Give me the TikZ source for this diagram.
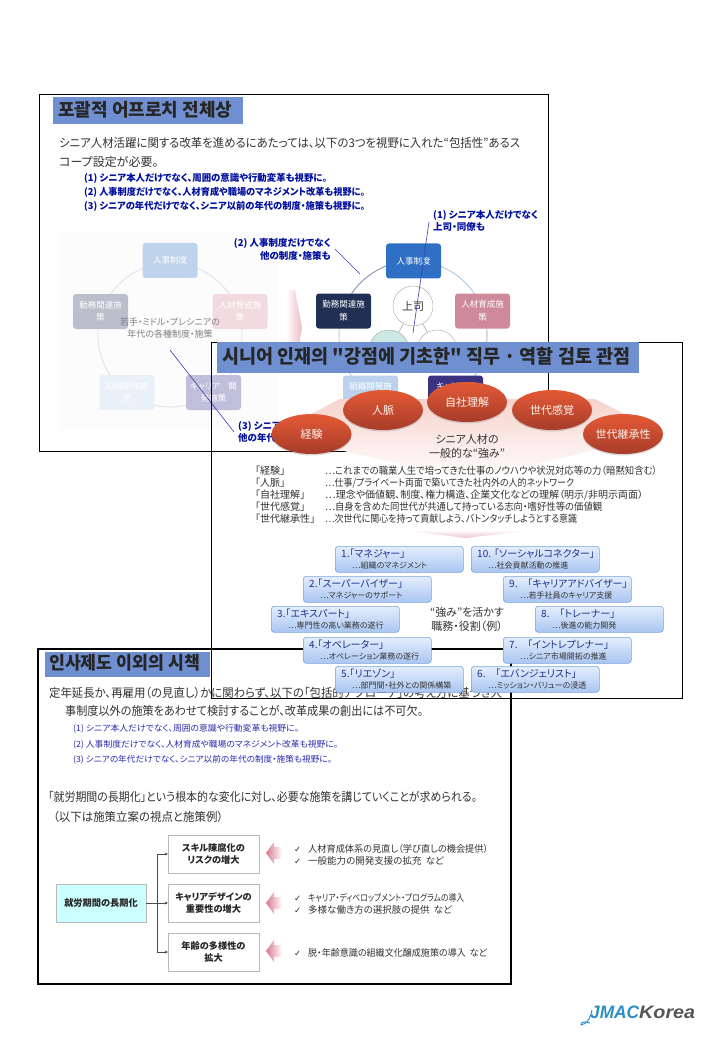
\documentclass[tikz,border=0pt]{standalone}
\usepackage{graphicx}
\usepackage{fontspec}
\setmainfont[RawFeature=+palt]{Noto Sans CJK JP}
\newfontfamily\krfont{Noto Sans CJK KR}
\newfontfamily\lgfont{Liberation Sans}
\newfontfamily\djvfont{DejaVu Sans}
\usetikzlibrary{shapes.geometric,shadows,arrows.meta,calc}
\definecolor{band}{HTML}{6F8FD0}
\definecolor{navy}{HTML}{000F9F}
\definecolor{blue3}{HTML}{2A2AB0}
\definecolor{txt}{HTML}{333333}
\definecolor{annot}{HTML}{3B3BAE}
\definecolor{E1}{HTML}{E45A36}
\definecolor{E2}{HTML}{A63C2A}
\definecolor{RB}{HTML}{7BA4DC}
\definecolor{R1}{HTML}{E4EEFD}
\definecolor{R2}{HTML}{A9C5F1}
\definecolor{R3}{HTML}{1F2F8F}
\definecolor{P1}{HTML}{D8788F}
\definecolor{B1}{HTML}{9BBFE0}
\definecolor{B2}{HTML}{8A96AE}
\definecolor{C1}{HTML}{C0D3EC}
\definecolor{C2}{HTML}{B9BFCB}
\definecolor{C3}{HTML}{F2DBE0}
\definecolor{C4}{HTML}{E9F0F8}
\definecolor{C5}{HTML}{C1BEDB}
\definecolor{D1}{HTML}{2F6FC4}
\definecolor{D2}{HTML}{1F3054}
\definecolor{D3}{HTML}{CF8A9A}
\definecolor{D4}{HTML}{BCD2EC}
\definecolor{D5}{HTML}{3A3480}
\definecolor{D6}{HTML}{CCE8E4}
\definecolor{S1}{HTML}{F6D3CC}
\definecolor{F1}{HTML}{CCFFFF}
\definecolor{L1}{HTML}{2A8FC8}
\definecolor{L2}{HTML}{555555}
\newcommand{\fs}[1]{\fontsize{#1}{#1}\selectfont}
\newcommand{\fw}[2]{\resizebox{#1pt}{\height}{#2}}
\tikzset{
 x=1pt,y=-1pt,
 frame/.style={draw=black,line width=1pt},
 frameb/.style={draw=black,line width=2pt},
 ttl/.style={anchor=mid west,inner sep=0,yshift=-3pt,font=\krfont\bfseries\fs{18},text=black!85},
 tl/.style={anchor=mid west,inner sep=0,yshift=-1.5pt,text=txt},
 tc/.style={anchor=center,inner sep=0,text=txt,align=center},
 bluebold/.style={tl,text=navy,font=\bfseries\fs{9.5}},
 bluereg/.style={tl,text=blue3,font=\fs{8.5}},
 main/.style={tl,font=\fs{12}},
 rbox/.style={rounded corners=3pt,inner sep=0,minimum width=55pt,minimum height=35pt,align=center,font=\fontsize{8.5}{12.5}\selectfont,text=white},
 ring/.style={circle,draw=gray!70,fill=white,minimum size=40pt,inner sep=0},
 annotline/.style={draw=annot,line width=.6pt},
 bigell/.style={ellipse,minimum width=80pt,minimum height=40pt,inner sep=0,top color=E1,bottom color=E2,text=white!92!orange,font=\fs{11},drop shadow={opacity=.3,shadow xshift=0pt,shadow yshift=-1.5pt}},
 rolebox/.style={draw=RB,rounded corners=3pt,line width=.6pt,top color=R1,bottom color=R2,minimum width=128pt,minimum height=26pt,inner sep=0,anchor=north west},
 roletitle/.style={tl,text=R3,font=\fs{10}},
 rolesub/.style={tl,font=\fs{8},text=txt},
 fbox/.style={draw=gray!55,fill=white,minimum width=91pt,minimum height=38pt,inner sep=0,align=center,font=\bfseries\fs{9.2},text=black!85,drop shadow={opacity=.25,shadow xshift=1pt,shadow yshift=-1pt}},
 conn/.style={draw=black!70,line width=.6pt,-{Stealth[length=3pt,width=3pt]}},
 chk/.style={tl,font=\djvfont\fs{8.5}},
 item/.style={tl,font=\fs{9.5}},
 pinkarrow/.style={left color=P1,right color=white,draw=none},
}
\newcommand{\role}[5]{%
 \node[rolebox] (#1) at (#2,#3) {};
 \node[roletitle] (#1t) at ([shift={(6,7.5)}]#1.north west) {#4};
 \node[rolesub] (#1s) at ([shift={(17,18.5)}]#1.north west) {#5};
}
\begin{document}
\begin{tikzpicture}
\useasboundingbox (0,0) rectangle (720,1040);
\fill[white] (0,0) rectangle (720,1040);

% ---------- panel 1
\draw[frame] (39,95) rectangle (548,451);
\fill[band] (53,97) rectangle (243,124);
\node[ttl] (t1) at (58,110.5) {\fw{174}{포괄적 어프로치 전체상}};
\node[main] (a1) at (59,143) {\fw{461}{シニア人材活躍に関する改革を進めるにあたっては、以下の3つを視野に入れた“包括性”あるス}};
\node[main] (a2) at (59,162) {コープ設定が必要。};
\node[bluebold] (b1) at (84,177) {\fw{243}{(1) シニア本人だけでなく、周囲の意識や行動変革も視野に。}};
\node[bluebold] (b2) at (84,191) {\fw{281}{(2) 人事制度だけでなく、人材育成や職場のマネジメント改革も視野に。}};
\node[bluebold] (b3) at (84,205) {\fw{281}{(3) シニアの年代だけでなく、シニア以前の年代の制度・施策も視野に。}};

% faded diagram
\fill[black!1] (60,232) rectangle (278,430);
\draw[blue!25!gray!25,line width=.6pt] (170,335) circle (72);
\node[rbox,fill=C1] (f1) at (170,260.5) {人事制度};
\node[rbox,fill=C2] (f2) at (100.5,311.5) {勤務関連施\\策};
\node[rbox,fill=C3] (f3) at (240,311.5) {人材育成施\\策};
\node[rbox,fill=C4] (f4) at (127,392.5) {組織開発施\\策};
\node[rbox,fill=C5] (f5) at (213.5,392.5) {キャリア　開\\発施策};
\node[tc,text=gray,font=\fontsize{9}{12}\selectfont] (fc) at (170,328) {若手・ミドル・プレシニアの\\年代の各種制度・施策};

% pink arrow between diagrams
\shade[left color=white,right color=P1!50] (286,290) -- (295,290) -- (302,328) -- (295,366) -- (286,366) -- cycle;

% sharp diagram
\draw[draw=B1,line width=.7pt] (413,335) circle (74);
\begin{scope}
 \clip (339,240) rectangle (386,300);
 \draw[draw=B2,line width=.7pt] (413,335) circle (74);
\end{scope}
\begin{scope}
 \clip (470,329) rectangle (500,342);
 \draw[draw=D3!60,line width=.7pt] (413,335) circle (74);
\end{scope}
\node[rbox,fill=D1] (s1) at (413.5,261) {人事制度};
\node[rbox,fill=D2] (s2) at (343.5,311) {勤務関連施\\策};
\node[rbox,fill=D3] (s3) at (482.5,311) {人材育成施\\策};
\node[rbox,fill=D4] (s4) at (370.5,393) {組織開発施\\策};
\node[rbox,fill=D5] (s5) at (455.5,393) {キャリア開\\発施策};
\node[ring,font=\fs{11},text=txt] (c0) at (413,306) {上司};
\node[ring,fill=D6] (c1) at (389,350) {};
\node[ring] (c2) at (437,350) {};
\draw[gray!70,line width=.6pt] (c0) -- (c1);
\draw[gray!70,line width=.6pt] (c0) -- (c2);

\coordinate (l1a) at (429,222); \coordinate (l1b) at (413,333);
\coordinate (l2a) at (335,249); \coordinate (l2b) at (360,274);
\coordinate (l3a) at (170,350); \coordinate (l3b) at (234,432);
\draw[annotline] (l1a) -- (l1b);
\draw[annotline] (l2a) -- (l2b);
\draw[annotline] (l3a) -- (l3b);
\node[bluebold] (n1) at (433,214) {(1) シニア本人だけでなく};
\node[bluebold] (n1b) at (433,226.5) {上司・同僚も};
\node[bluebold,anchor=mid east] (n2) at (331,242.5) {(2) 人事制度だけでなく};
\node[bluebold,anchor=mid east] (n2b) at (331,255) {他の制度・施策も};
\node[bluebold] (n3) at (238,425) {(3) シニア};
\node[bluebold] (n3b) at (238,437) {他の年代};

% ---------- panel 2 background
\shade[top color=S1,bottom color=white] (340,399) -- (595,399) -- (663,434) -- (467,480) -- (272,434) -- cycle;
\draw[frame] (211,342) rectangle (682,698);
\fill[band] (217,342) rectangle (639,373);
\node[ttl,font=\krfont\bfseries\fs{19}] (t2) at (222,358) {\fw{408}{시니어 인재의 "강점에 기초한" 직무 · 역할 검토 관점}};
\node[bigell] (e1) at (311.5,434) {経験};
\node[bigell] (e2) at (383,410) {人脈};
\node[bigell] (e3) at (467,402) {自社理解};
\node[bigell] (e4) at (552,410) {世代感覚};
\node[bigell] (e5) at (623,434) {世代継承性};
\node[tc,font=\fontsize{11}{14}\selectfont] (g1) at (467,446) {シニア人材の\\一般的な“強み”};
\node[tl,font=\fs{10}] (k1) at (255,470) {「経験」};
\node[tl,font=\fs{10}] (k2) at (255,482) {「人脈」};
\node[tl,font=\fs{10}] (k3) at (255,494) {「自社理解」};
\node[tl,font=\fs{10}] (k4) at (255,506) {「世代感覚」};
\node[tl,font=\fs{10}] (k5) at (255,518) {「世代継承性」};
\node[tl,font=\fs{10}] (v1) at (325,470) {\fw{332}{…これまでの職業人生で培ってきた仕事のノウハウや状況対応等の力（暗黙知含む）}};
\node[tl,font=\fs{10}] (v2) at (325,482) {\fw{249}{…仕事/プライベート両面で築いてきた社内外の人的ネットワーク}};
\node[tl,font=\fs{10}] (v3) at (325,494) {\fw{318}{…理念や価値観、制度、権力構造、企業文化などの理解（明示/非明示両面）}};
\node[tl,font=\fs{10}] (v4) at (325,506) {\fw{277}{…自身を含めた同世代が共通して持っている志向・嗜好性等の価値観}};
\node[tl,font=\fs{10}] (v5) at (325,518) {\fw{252}{…次世代に関心を持って貢献しよう、バトンタッチしようとする意識}};
\shade[top color=white,bottom color=P1!45] (400,530) -- (533,530) -- (466,538) -- cycle;

% ---------- panel 3
\draw[frameb] (38,649) rectangle (511,984);
\fill[band] (45,652) rectangle (210,677);
\node[ttl] (t3) at (49,664) {\fw{151}{인사제도 이외의 시책}};
\node[main] (m1) at (49,693) {\fw{453}{定年延長か、再雇用（の見直し）かに関わらず、以下の「包括的アプローチ」の考え方に基づき人}};
\node[main] (m2) at (65,711) {\fw{358}{事制度以外の施策をあわせて検討することが、改革成果の創出には不可欠。}};
\node[bluereg] (u1) at (73,727) {\fw{226}{(1) シニア本人だけでなく、周囲の意識や行動変革も視野に。}};
\node[bluereg] (u2) at (73,743) {\fw{265}{(2) 人事制度だけでなく、人材育成や職場のマネジメント改革も視野に。}};
\node[bluereg] (u3) at (73,758) {\fw{259}{(3) シニアの年代だけでなく、シニア以前の年代の制度・施策も視野に。}};
\node[main] (m3) at (48,797) {\fw{429}{「就労期間の長期化」という根本的な変化に対し、必要な施策を講じていくことが求められる。}};
\node[main] (m4) at (53,817) {\fw{170}{（以下は施策立案の視点と施策例）}};

\node[fbox,fill=F1,minimum width=90pt] (fm) at (101,903) {就労期間の長期化};
\node[fbox] (fa) at (213.5,854) {スキル陳腐化の\\[3pt]リスクの増大};
\node[fbox] (fb) at (213.5,903) {キャリアデザインの\\[3pt]重要性の増大};
\node[fbox] (fc2) at (213.5,952) {年齢の多様性の\\[3pt]拡大};
\coordinate (tr) at (157,903);
\draw[conn] (fm.east) -- (fb.west);
\draw[conn] (tr) |- (fa.west);
\draw[conn] (tr) |- (fc2.west);
\foreach \yy in {853,903,951}{
 \shade[pinkarrow] (266,\yy) -- (274,\yy-11) -- (274,\yy-6) -- (282,\yy-6) -- (282,\yy+6) -- (274,\yy+6) -- (274,\yy+11) -- cycle;
}
\node[chk] (ck1) at (294,848) {✓};
\node[chk] (ck2) at (294,860) {✓};
\node[chk] (ck3) at (294,897) {✓};
\node[chk] (ck4) at (294,909) {✓};
\node[chk] (ck5) at (294,952) {✓};
\node[item] (i1) at (308,848) {\fw{180}{人材育成体系の見直し（学び直しの機会提供）}};
\node[item] (i2) at (308,860) {一般能力の開発支援の拡充\ \ など};
\node[item] (i3) at (308,897) {\fw{156}{キャリア・ディベロップメント・プログラムの導入}};
\node[item] (i4) at (308,909) {多様な働き方の選択肢の提供\ \ など};
\node[item] (i5) at (308,952) {\fw{179}{脱・年齢意識の組織文化醸成施策の導入\ \ など}};

% ---------- panel 2 foreground
\draw[frame] (211,660) -- (211,698) -- (682,698);
\role{r1}{335}{546}{1.「マネジャー」}{…組織のマネジメント}
\role{r10}{471}{546}{10. 「ソーシャルコネクター」}{…社会貢献活動の推進}
\role{r2}{303}{576}{2.「スーパーバイザー」}{…マネジャーのサポート}
\role{r9}{503}{576}{9.　「キャリアアドバイザー」}{…若手社員のキャリア支援}
\role{r3}{271}{606}{3.「エキスパート」}{…専門性の高い業務の遂行}
\role{r8}{535}{606}{8.　「トレーナー」}{…後進の能力開発}
\role{r4}{303}{637}{4.「オペレーター」}{…オペレーション業務の遂行}
\role{r7}{503}{637}{7.　「イントレプレナー」}{…シニア市場開拓の推進}
\role{r5}{335}{666}{5.「リエゾン」}{…部門間・社外との関係構築}
\role{r6}{471}{666}{6.　「エバンジェリスト」}{…ミッション・バリューの浸透}
\node[tc,font=\fontsize{11}{13.5}\selectfont] (g2) at (467,619.5) {“強み”を活かす\\職務・役割（例）};

% ---------- logo
\node[anchor=mid west,inner sep=0,font=\lgfont\bfseries\itshape\fs{18},text=L1] (lg1) at (590,1016) {\fw{49}{JMAC}};
\node[anchor=mid west,inner sep=0,font=\lgfont\bfseries\itshape\fs{18},text=L2] (lg2) at (639,1016) {\fw{56}{Korea}};
\draw[L1,line width=.9pt] (592,1010) .. controls (590,1020) and (586,1024) .. (581,1025) .. controls (580,1022) and (585,1021) .. (590,1023);
\end{tikzpicture}
\end{document}
